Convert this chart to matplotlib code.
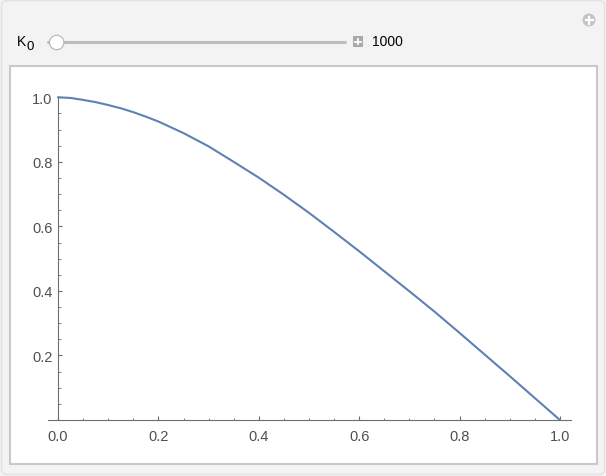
import matplotlib; matplotlib.use("Agg")
import matplotlib.pyplot as plt
from matplotlib.patches import Rectangle, Circle, FancyBboxPatch
from matplotlib.ticker import MultipleLocator, FixedLocator, FormatStrFormatter

# curve (x step 0.05, a few extra near the flat top)
xs = [0.000, 0.025, 0.050, 0.075, 0.100, 0.125, 0.150, 0.175, 0.200, 0.25, 0.30, 0.35, 0.40,
      0.45, 0.50, 0.55, 0.60, 0.65, 0.70, 0.75, 0.80, 0.85, 0.90, 0.95, 1.00]
ys = [1.000, 0.998, 0.992, 0.985, 0.976, 0.966, 0.954, 0.940, 0.925, 0.889, 0.848, 0.800, 0.751,
      0.698, 0.642, 0.583, 0.523, 0.461, 0.399, 0.336, 0.270, 0.203, 0.136, 0.068, 0.000]
x_ticks = [0.0, 0.2, 0.4, 0.6, 0.8, 1.0]
y_ticks = [0.2, 0.4, 0.6, 0.8, 1.0]
slider_label, slider_value = "K", "1000"

W, H = 606, 477
FONT = "Liberation Sans"
AX_COL, LBL_COL = "#6e6e6e", "#505050"

fig = plt.figure(figsize=(W / 100, H / 100), dpi=100, facecolor="#f3f3f3")

# pixel overlay for the panel furniture
ov = fig.add_axes([0, 0, 1, 1], zorder=0)
ov.set_xlim(0, W); ov.set_ylim(H, 0); ov.axis("off")
ov.add_patch(FancyBboxPatch((1.5, 1.5), W - 3, H - 3, boxstyle="round,pad=0,rounding_size=6",
                            fc="#f3f3f3", ec="#e2e2e2", lw=1))
ov.add_patch(Rectangle((9.5, 67), 587, 398, fc="white", ec="#c9c9c9", lw=1.5))

# slider row
ov.text(17, 42, slider_label, fontsize=10, family=FONT, va="center", ha="left", color="black")
ov.text(26.5, 46.5, "0", fontsize=9.5, family=FONT, va="center", ha="left", color="black")
ov.plot([48, 345], [42.7, 42.7], color="#bdbdbd", lw=2.2, solid_capstyle="round")
ov.add_patch(Circle((56.7, 43.5), 7.2, fc="white", ec="#b4b4b4", lw=0.8, zorder=3))
ov.add_patch(Rectangle((352.7, 37.3), 10.6, 10.6, fc="#a9a9a9", ec="none"))
ov.plot([355.2, 360.8], [42.6, 42.6], color="white", lw=1.3)
ov.plot([358, 358], [39.8, 45.4], color="white", lw=1.3)
ov.text(372, 42, slider_value, fontsize=10, family=FONT, va="center", ha="left", color="black")
ov.add_patch(Circle((589, 21), 6.5, fc="#c4c4c4", ec="none"))
ov.plot([585.5, 592.5], [21, 21], color="white", lw=1.6)
ov.plot([589, 589], [17.5, 24.5], color="white", lw=1.6)

# main plot
ax = fig.add_axes([48 / W, 1 - 421 / H, (571.3 - 48) / W, (421 - 98.3) / H], zorder=1)
ax.patch.set_visible(False)
ax.plot(xs, ys, color="#5e81b5", lw=1.5, solid_capstyle="round", solid_joinstyle="round",
        clip_on=False)
ax.set_xlim(-0.02, 1.0227)
ax.set_ylim(0, 1.0)
for s in ["top", "right"]:
    ax.spines[s].set_visible(False)
ax.spines["left"].set_position(("data", 0))
for s in ["left", "bottom"]:
    ax.spines[s].set_color(AX_COL); ax.spines[s].set_linewidth(0.8)
ax.xaxis.set_major_locator(FixedLocator(x_ticks))
ax.yaxis.set_major_locator(FixedLocator(y_ticks))
ax.xaxis.set_minor_locator(MultipleLocator(0.05))
ax.yaxis.set_minor_locator(MultipleLocator(0.05))
ax.xaxis.set_major_formatter(FormatStrFormatter("%.1f"))
ax.yaxis.set_major_formatter(FormatStrFormatter("%.1f"))
ax.tick_params(which="major", direction="in", length=3.2, width=0.8, color=AX_COL,
               labelsize=10.5, labelcolor=LBL_COL)
ax.tick_params(which="minor", direction="in", length=1.8, width=0.6, color=AX_COL)
ax.tick_params(axis="x", which="major", pad=6.5)
ax.tick_params(axis="y", which="major", pad=4)
for lab in ax.get_xticklabels() + ax.get_yticklabels():
    lab.set_family(FONT)

fig.savefig("out.png", dpi=100, facecolor=fig.get_facecolor())
